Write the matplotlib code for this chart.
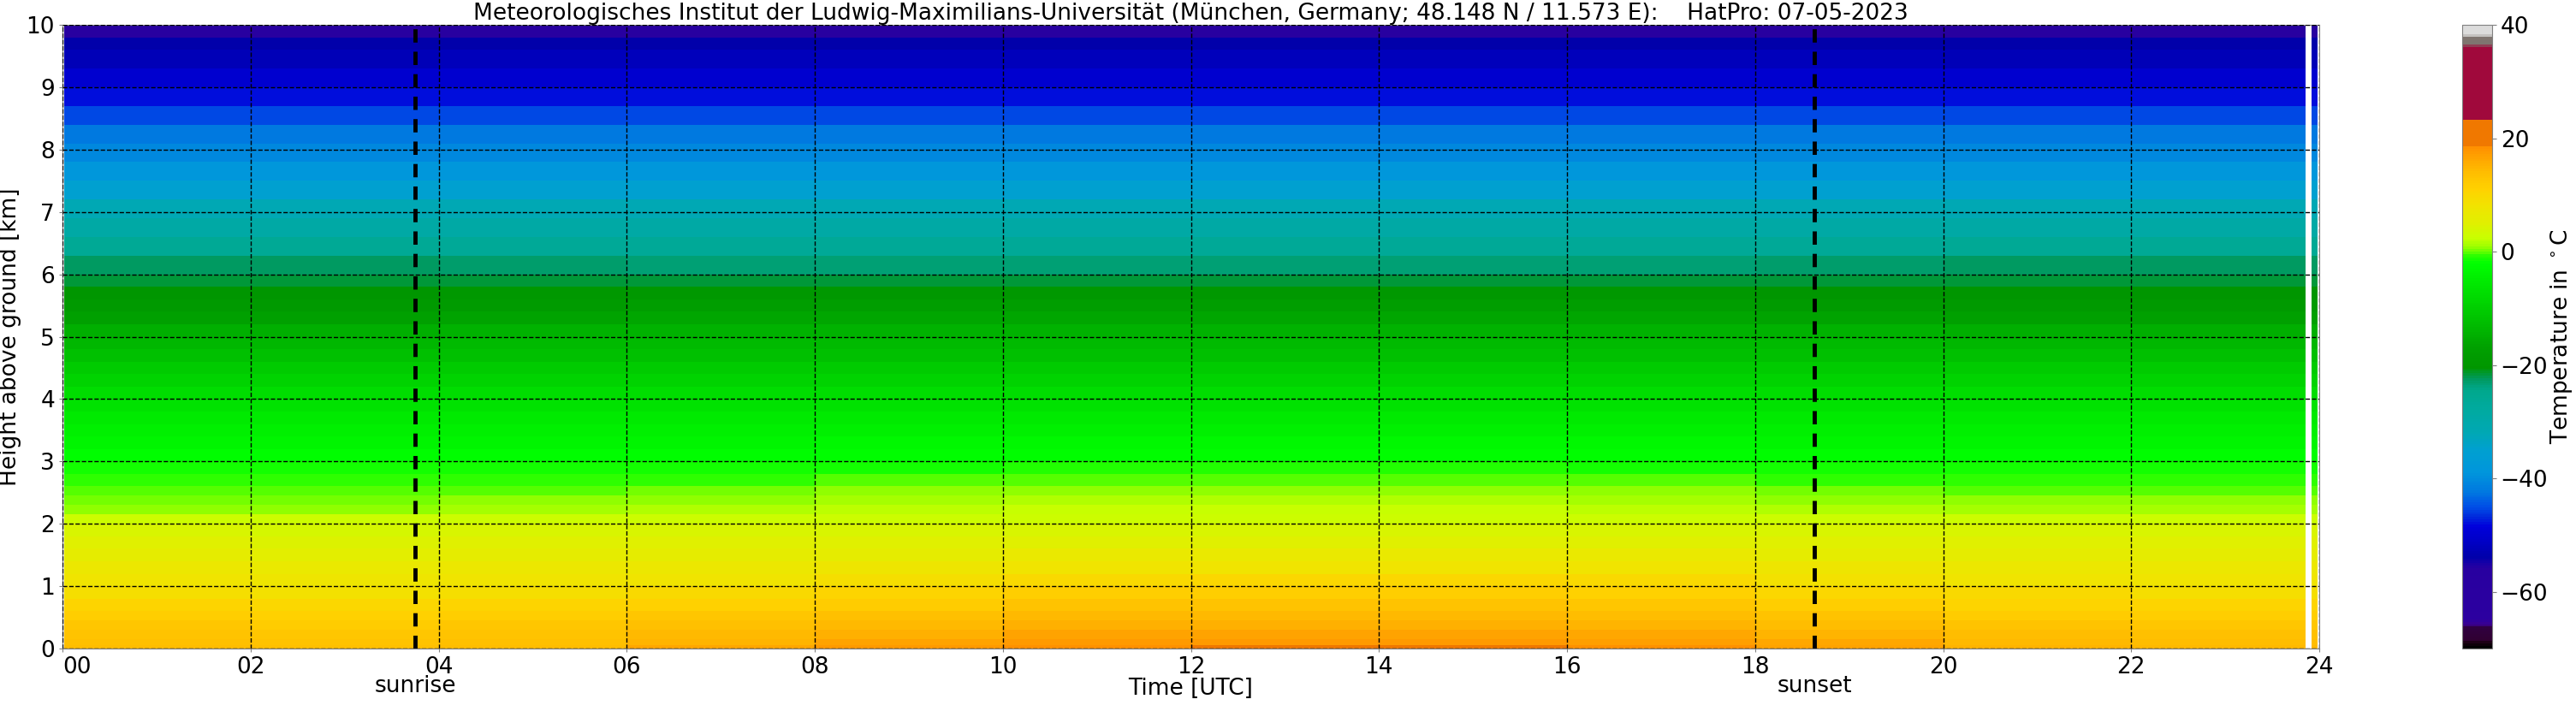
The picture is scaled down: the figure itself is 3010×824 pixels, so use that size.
import numpy as np
import matplotlib
matplotlib.use("Agg")
import matplotlib.pyplot as plt
import matplotlib.transforms as mtransforms
from matplotlib.colors import LinearSegmentedColormap

# ---------------- data ----------------
# time blocks (UTC hours); a short gap and one last scan just before midnight
time_edges = [0.02, 2, 4, 6, 8, 10, 12, 14, 16, 18, 20, 22, 23.85, 23.92, 23.98]

# retrieval levels (km above ground), used as layer edges
height_edges = [0.0, 0.05, 0.15, 0.3, 0.45, 0.6, 0.8, 1.0, 1.2, 1.4, 1.6, 1.8,
                2.0, 2.15, 2.3, 2.45, 2.6, 2.8, 3.0, 3.2, 3.4, 3.6, 3.8, 4.0,
                4.2, 4.4, 4.6, 4.8, 5.0, 5.2, 5.4, 5.6, 5.8, 6.0, 6.3, 6.6,
                6.9, 7.2, 7.5, 7.8, 8.1, 8.4, 8.7, 9.0, 9.3, 9.6, 9.8, 10.0]

# temperature (deg C) per layer, columns = 00-02, 02-04, ..., 22-24 UTC
temperature = [
    [14.0, 13.5, 14.0, 16.0, 17.5, 18.5, 19.5, 19.5, 18.5, 16.5, 15.0, 14.5],
    [13.5, 13.0, 13.5, 15.0, 16.5, 17.5, 17.5, 17.5, 17.0, 16.0, 14.5, 14.0],
    [13.0, 12.5, 13.0, 14.5, 15.5, 16.5, 16.5, 16.5, 16.0, 15.0, 14.0, 13.5],
    [12.5, 12.0, 12.5, 13.5, 14.5, 15.5, 15.5, 15.5, 15.0, 14.0, 13.0, 12.5],
    [11.5, 11.0, 11.5, 12.5, 13.5, 14.5, 14.5, 14.5, 14.0, 13.0, 12.0, 11.5],
    [10.5, 10.0, 10.5, 11.0, 12.0, 13.0, 13.0, 13.0, 12.5, 11.5, 10.5, 10.5],
    [9.0, 8.5, 9.0, 9.5, 10.5, 11.5, 11.5, 11.5, 11.0, 10.0, 9.5, 9.0],
    [8.0, 7.5, 8.0, 8.0, 9.0, 9.5, 10.0, 10.0, 9.5, 8.5, 8.0, 8.0],
    [7.0, 6.5, 7.0, 7.0, 7.5, 8.0, 8.0, 8.0, 8.0, 7.5, 7.0, 7.0],
    [6.0, 5.5, 6.0, 6.0, 6.0, 6.5, 6.5, 6.5, 6.5, 6.0, 6.0, 6.0],
    [5.0, 4.5, 5.0, 5.0, 5.0, 5.0, 5.0, 5.0, 5.0, 5.0, 5.0, 5.0],
    [4.0, 3.5, 4.0, 4.0, 4.0, 4.0, 4.0, 4.0, 4.0, 4.0, 4.0, 4.0],
    [3.0, 3.0, 3.0, 3.0, 3.0, 3.0, 3.0, 3.0, 3.0, 3.0, 3.0, 3.0],
    [0.8, 0.8, 1.0, 1.5, 2.0, 2.2, 2.2, 2.2, 2.0, 1.5, 1.0, 1.0],
    [0.3, 0.3, 0.5, 0.8, 1.2, 1.5, 1.5, 1.5, 1.2, 0.8, 0.5, 0.5],
    [-0.2, -0.2, 0.0, 0.3, 0.6, 0.8, 0.8, 0.8, 0.6, 0.3, 0.0, 0.0],
    [-0.8, -0.8, -0.6, -0.4, -0.2, 0.0, 0.0, 0.0, -0.2, -0.4, -0.6, -0.6],
    [-1.6, -1.6, -1.5, -1.4, -1.3, -1.2, -1.2, -1.2, -1.3, -1.4, -1.5, -1.5],
    [-2.5, -2.5, -2.5, -2.4, -2.3, -2.3, -2.3, -2.3, -2.3, -2.4, -2.5, -2.5],
    [-3.5, -3.5, -3.5, -3.4, -3.3, -3.3, -3.3, -3.3, -3.3, -3.4, -3.5, -3.5],
    [-4.5, -4.5, -4.5, -4.5, -4.4, -4.4, -4.4, -4.4, -4.4, -4.5, -4.5, -4.5],
    [-5.5, -5.5, -5.5, -5.5, -5.5, -5.4, -5.4, -5.4, -5.5, -5.5, -5.5, -5.5],
    [-6.5, -6.5, -6.5, -6.5, -6.5, -6.5, -6.5, -6.5, -6.5, -6.5, -6.5, -6.5],
    [-7.5, -7.5, -7.5, -7.5, -7.5, -7.5, -7.5, -7.5, -7.5, -7.5, -7.5, -7.5],
    [-9.0, -9.0, -9.0, -9.0, -9.0, -9.0, -9.0, -9.0, -9.0, -9.0, -9.0, -9.0],
    [-10.5, -10.5, -10.5, -10.5, -10.5, -10.5, -10.5, -10.5, -10.5, -10.5, -10.5, -10.5],
    [-12.0, -12.0, -12.0, -12.0, -12.0, -12.0, -12.0, -12.0, -12.0, -12.0, -12.0, -12.0],
    [-13.5, -13.5, -13.0, -13.0, -13.0, -13.0, -13.0, -13.0, -13.0, -13.0, -13.5, -13.5],
    [-15.0, -15.0, -14.5, -14.5, -14.5, -14.5, -14.5, -14.5, -14.5, -14.5, -15.0, -15.0],
    [-17.0, -17.0, -16.5, -16.0, -16.0, -16.0, -16.0, -16.0, -16.0, -16.5, -17.0, -17.0],
    [-19.0, -19.0, -18.5, -18.0, -18.0, -18.0, -18.0, -18.0, -18.0, -18.5, -19.0, -19.0],
    [-20.5, -20.5, -20.0, -20.0, -20.0, -20.0, -20.0, -20.0, -20.0, -20.5, -20.5, -20.5],
    [-21.5, -21.5, -21.5, -21.5, -21.5, -21.5, -21.5, -21.5, -21.5, -21.5, -21.5, -21.5],
    [-22.5, -22.5, -23.0, -23.5, -23.5, -23.5, -23.5, -23.5, -23.5, -23.0, -22.5, -22.5],
    [-26.0, -26.0, -26.5, -26.5, -26.5, -26.5, -26.5, -26.5, -26.5, -26.5, -26.0, -26.0],
    [-29.0, -29.0, -29.0, -29.0, -29.0, -29.0, -29.0, -29.0, -29.0, -29.0, -29.0, -29.0],
    [-32.0, -32.0, -32.0, -32.0, -32.0, -32.0, -32.0, -32.0, -32.0, -32.0, -32.0, -32.0],
    [-35.0, -35.0, -35.0, -35.0, -35.0, -35.0, -35.0, -35.0, -35.0, -35.0, -35.0, -35.0],
    [-38.5, -38.5, -38.5, -38.5, -38.5, -38.5, -38.5, -38.5, -38.5, -38.5, -38.5, -38.5],
    [-40.5, -40.5, -40.5, -40.5, -40.5, -40.5, -40.5, -40.5, -40.5, -40.5, -40.5, -40.5],
    [-42.5, -42.5, -42.5, -42.5, -42.5, -42.5, -42.5, -42.5, -42.5, -42.5, -42.5, -42.5],
    [-45.5, -45.5, -45.5, -45.5, -45.5, -45.5, -45.5, -45.5, -45.5, -45.5, -45.5, -45.5],
    [-48.0, -48.0, -48.0, -48.0, -48.0, -48.0, -48.0, -48.0, -48.0, -48.0, -48.0, -48.0],
    [-50.0, -50.0, -50.0, -50.0, -50.0, -50.0, -50.0, -50.0, -50.0, -50.0, -50.0, -50.0],
    [-52.5, -52.5, -52.0, -52.0, -52.0, -52.0, -52.0, -52.0, -52.0, -52.0, -52.5, -52.5],
    [-54.0, -54.0, -54.0, -54.0, -54.0, -54.0, -54.0, -54.0, -54.0, -54.0, -54.0, -54.0],
    [-57.0, -57.0, -57.0, -57.0, -57.0, -57.0, -57.0, -57.0, -57.0, -57.0, -57.0, -57.0],
]

sunrise = 3.75
sunset = 18.63

# colour scale (deg C -> colour)
cmap_temps = [-70, -69.2, -68.8, -66.5, -66.0, -65, -56, -55, -54, -51, -48.5,
              -47, -45, -42.5, -39, -35, -32, -28, -24.5, -22.5, -20.5, -17,
              -11, -6, -2, -0.5, 0, 1, 2.5, 5, 8, 11, 14, 17, 18.5, 18.6,
              23.4, 23.5, 36.5, 36.6, 38.2, 38.3, 40]
cmap_colors = ['#000000', '#1a0010', '#300030', '#300040', '#3c0090', '#2c00a0',
               '#2800a0', '#1400a8', '#0000aa', '#0000c8', '#0000dc', '#0028dc',
               '#0050e6', '#0078e0', '#0096dc', '#00a0d0', '#00a8b4', '#00aaa0',
               '#00a88c', '#009a60', '#009600', '#00a000', '#00c800', '#00e600',
               '#00ff00', '#30ff00', '#60ff00', '#a0ff00', '#c8ff00', '#e0f000',
               '#f0e400', '#ffd200', '#ffbe00', '#ffa000', '#ff9000', '#f07800',
               '#f07800', '#a0093c', '#a0093c', '#7f7570', '#7f7570', '#dcdcdc',
               '#dcdcdc']

vmin, vmax = -70, 40
cmap = LinearSegmentedColormap.from_list(
    "hatpro_temp",
    [((t - vmin) / (vmax - vmin), c) for t, c in zip(cmap_temps, cmap_colors)])

# field: 12 blocks, an empty gap, then the last scan
T = np.array(temperature)
gap = np.full((T.shape[0], 1), np.nan)
field = np.ma.masked_invalid(np.hstack([T, gap, T[:, -1:]]))

FS = 19

# ---------------- plot ----------------
fig = plt.figure(figsize=(30.1, 8.24), dpi=100)
ax = fig.add_axes([73 / 3010, 66 / 824, (2710 - 73) / 3010, 729 / 824])
cax = fig.add_axes([2877 / 3010, 66 / 824, 35 / 3010, 729 / 824])

mesh = ax.pcolormesh(time_edges, height_edges, field, cmap=cmap,
                     vmin=vmin, vmax=vmax, shading='flat')

ax.set_xlim(0, 24)
ax.set_ylim(0, 10)
ax.set_xticks(range(0, 25, 2))
ax.set_xticklabels([f"{h:02d}" for h in range(0, 25, 2)])
ax.set_yticks(range(0, 11))
ax.tick_params(labelsize=FS, length=3, color='gray')
ax.get_xticklabels()[0].set_horizontalalignment('left')
ax.set_axisbelow(False)
ax.grid(True, color='k', ls='--', lw=1.0)
for s in ax.spines.values():
    s.set_color('gray')

for x in (sunrise, sunset):
    ax.axvline(x, color='k', lw=3.5, ls=(0, (3.2, 2.2)))

trans = mtransforms.blended_transform_factory(ax.transData, ax.transAxes)
ax.text(sunrise, -0.042, 'sunrise', transform=trans, ha='center', va='top', fontsize=FS)
ax.text(sunset, -0.042, 'sunset', transform=trans, ha='center', va='top', fontsize=FS)

ax.set_xlabel('Time [UTC]', fontsize=FS, labelpad=-1)
ax.set_ylabel('Height above ground [km]', fontsize=FS, labelpad=4)
ax.set_title('Meteorologisches Institut der Ludwig-Maximilians-Universität '
             '(München, Germany; 48.148 N / 11.573 E):    HatPro: 07-05-2023',
             fontsize=FS, pad=2)

cbar = fig.colorbar(mesh, cax=cax, ticks=[-60, -40, -20, 0, 20, 40])
cbar.ax.tick_params(labelsize=FS, color='gray')
cbar.outline.set_edgecolor('gray')
cbar.set_label('Temperature in $^\\circ$C', fontsize=FS)
cbar.ax.yaxis.set_label_coords(2.9, 0.5)

fig.savefig('out.png', dpi=100)
